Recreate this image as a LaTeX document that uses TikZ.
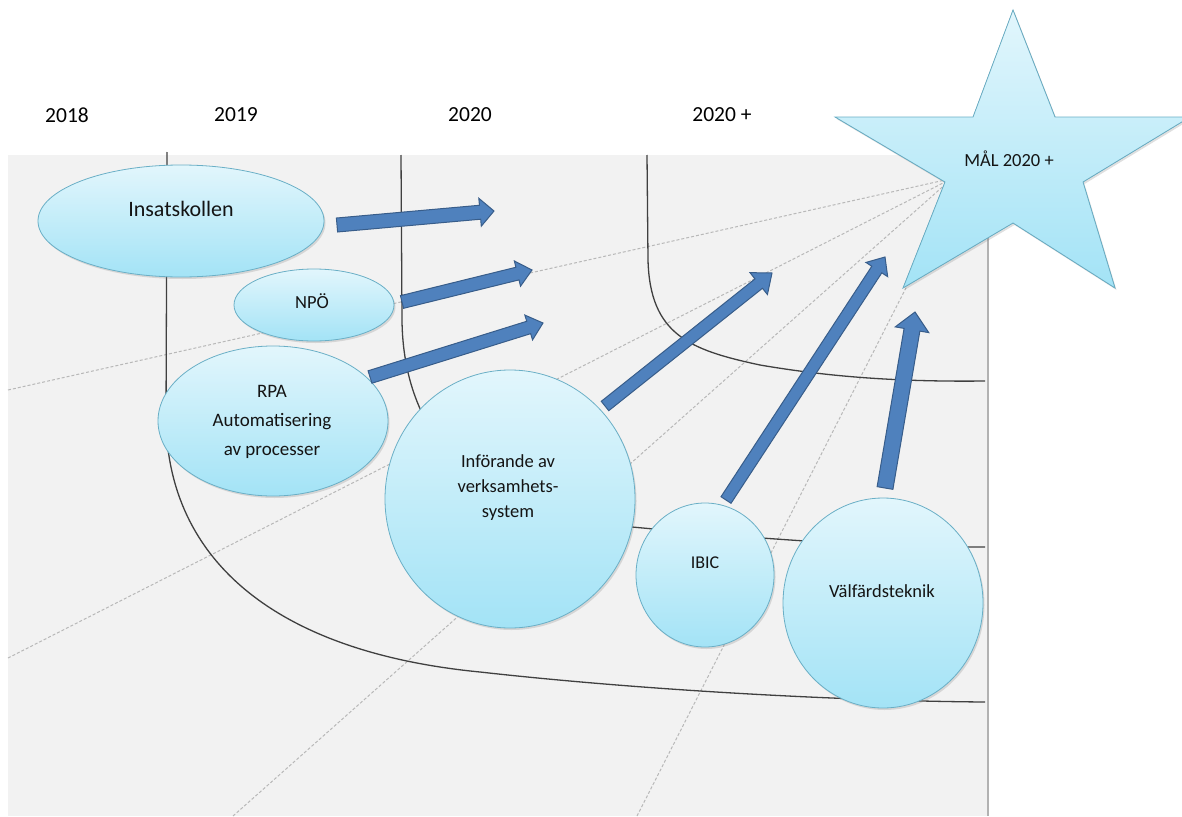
\documentclass[tikz,border=0pt]{standalone}
\usepackage{fontspec}
\setmainfont{Carlito}
\usetikzlibrary{calc,shapes.geometric,shadows}
\definecolor{bgray}{HTML}{F2F2F2}
\definecolor{bubtop}{HTML}{E2F6FC}
\definecolor{bubbot}{HTML}{A3E3F6}
\definecolor{bubline}{HTML}{6AAFC6}
\definecolor{arrfill}{HTML}{4F81BD}
\definecolor{arrline}{HTML}{385D8A}
\definecolor{curvec}{HTML}{404040}
\definecolor{dashc}{HTML}{B8B8B8}
\definecolor{txtc}{HTML}{141414}
\newcommand\fatarrow[5]{%
  \coordinate (fH) at ($(#2)!#5!(#1)$);
  \filldraw[fatarr] ($(#1)!#3!90:(#2)$) -- ($(fH)!#3!90:(#2)$) -- ($(fH)!#4!90:(#2)$) -- (#2)
    -- ($(fH)!#4!-90:(#2)$) -- ($(fH)!#3!-90:(#2)$) -- ($(#1)!#3!-90:(#2)$) -- cycle;}
\begin{document}
\begin{tikzpicture}[x=1pt,y=-1pt,
  bub/.style={ellipse, draw=bubline, line width=0.8pt, top color=bubtop, bottom color=bubbot,
    inner sep=0pt, drop shadow={shadow xshift=1.5pt, shadow yshift=-2pt, opacity=0.25}},
  txt/.style={text=txtc, inner sep=0pt, font=\fontsize{18.5}{22}\selectfont},
  yr/.style={text=black, inner sep=0pt, font=\fontsize{21.5}{26}\selectfont},
  fatarr/.style={fill=arrfill, draw=arrline, line width=1pt, line join=miter},
  curve/.style={draw=curvec, line width=1.3pt},
  dashl/.style={draw=dashc, line width=1pt, dash pattern=on 3pt off 2pt},
  starsty/.style={draw=bubline, line width=0.8pt, top color=bubtop, bottom color=bubbot,
    drop shadow={shadow xshift=1.5pt, shadow yshift=-2pt, opacity=0.25}}
]
\useasboundingbox (0,0) rectangle (1182,816);
\clip (0,0) rectangle (1182,816);
% background panel
\fill[bgray] (8,155) rectangle (987,816);
\draw[gray!60, line width=2pt] (988,155) -- (988,816);
% dashed guide lines
\draw[dashl] (8,390) -- (945,180);
\draw[dashl] (8,658) -- (945,182);
\draw[dashl] (233,816) -- (948,182);
\draw[dashl] (637,816) -- (965,172);
% curves
\draw[curve] (167,152) -- (166,420) .. controls (168,560) and (275,652) .. (480,672)
  .. controls (650,691) and (850,701) .. (985,702);
\draw[curve] (401,155) -- (402,320) .. controls (403,430) and (470,520) .. (632,527)
  .. controls (750,538) and (880,548) .. (985,547);
\draw[curve] (647,155) -- (648,260) .. controls (650,335) and (690,350) .. (760,365)
  .. controls (830,377) and (900,382) .. (985,381);
% year labels
\node[yr] (y18) at (67,115) {2018};
\node[yr] (y19) at (236,115) {2019};
\node[yr] (y20) at (470,115) {2020};
\node[yr] (y20p) at (722,115) {2020 +};
% bubbles
\node[bub, minimum width=286pt, minimum height=112pt] (ins) at (181,221) {};
\node[bub, minimum width=160pt, minimum height=72pt] (npo) at (314,305) {};
\node[bub, minimum width=230pt, minimum height=150pt] (rpa) at (273,421) {};
\node[bub, minimum width=250pt, minimum height=258pt] (inf) at (510,499) {};
\node[bub, minimum width=138pt, minimum height=144pt] (ibic) at (705,575) {};
\node[bub, minimum width=200pt, minimum height=210pt] (valf) at (883,603) {};
% bubble texts
\node[txt, font=\fontsize{22}{26}\selectfont] (tins) at (181,209) {Insatskollen};
\node[txt] (tnpo) at (312,301) {NPÖ};
\node[txt, align=center, font=\fontsize{19}{29}\selectfont] (trpa) at (272,422) {RPA\\Automatisering\\av processer};
\node[txt, align=center, font=\fontsize{18.5}{25}\selectfont] (tinf) at (508,488) {Införande av\\verksamhets-\\system};
\node[txt, font=\fontsize{18}{22}\selectfont] (tibic) at (705,563) {IBIC};
\node[txt] (tvalf) at (882,591) {Välfärdsteknik};
% arrows
\coordinate (a1s) at (337,225); \coordinate (a1e) at (494,211);
\coordinate (a2s) at (402,302); \coordinate (a2e) at (532,270);
\coordinate (a3s) at (370,377); \coordinate (a3e) at (543,323);
\coordinate (a4s) at (605,406); \coordinate (a4e) at (772,273);
\coordinate (a5s) at (726,500); \coordinate (a5e) at (885,257);
\coordinate (a6s) at (885,488); \coordinate (a6e) at (915,312);
\fatarrow{a1s}{a1e}{7pt}{14pt}{14pt}
\fatarrow{a2s}{a2e}{6.5pt}{13pt}{15pt}
\fatarrow{a3s}{a3e}{6.5pt}{13pt}{15pt}
\fatarrow{a4s}{a4e}{6pt}{14pt}{17pt}
\fatarrow{a5s}{a5e}{6pt}{13pt}{15pt}
\fatarrow{a6s}{a6e}{8pt}{17pt}{18pt}
% star
\filldraw[starsty] (1013,10) -- (1055,117) -- (1190,117) -- (1083,182) -- (1115,288)
  -- (1013,223) -- (903,288) -- (945,182) -- (835,117) -- (973,117) -- cycle;
\node[txt, font=\fontsize{18.5}{22}\selectfont] (tmal) at (1009,159) {MÅL 2020 +};
\end{tikzpicture}
\end{document}
